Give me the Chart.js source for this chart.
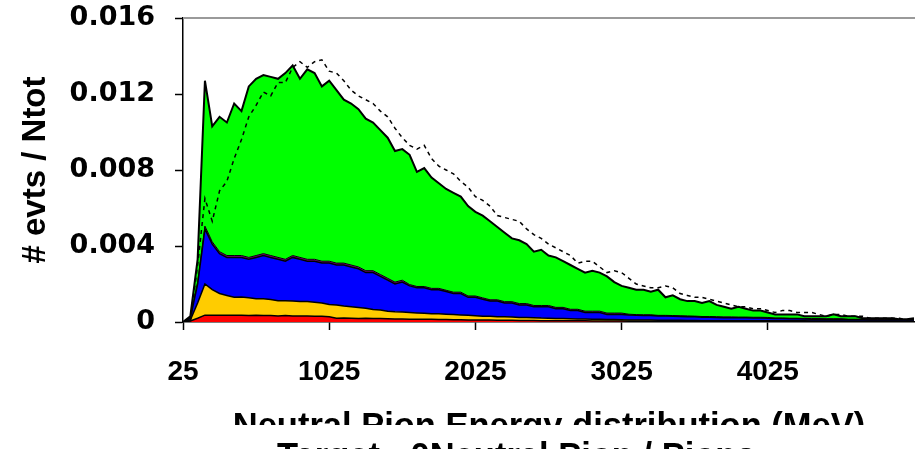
<!DOCTYPE html>
<html>
<head>
  <title>Neutral Pion Energy distribution</title>
  <script src="https://cdn.jsdelivr.net/npm/chart.js"></script>
  <style>
    body {
      margin: 0;
      background: #fff;
    }
    canvas {
      display: block;
    }
  </style>
</head>
<body>
  <canvas id="chart" width="915" height="449"></canvas>

  <script>
    // bin centres (MeV), 50 MeV wide
    var energyMeV = [
      25, 75, 125, 175, 225, 275, 325, 375, 425, 475,
      525, 575, 625, 675, 725, 775, 825, 875, 925, 975,
      1025, 1075, 1125, 1175, 1225, 1275, 1325, 1375, 1425, 1475,
      1525, 1575, 1625, 1675, 1725, 1775, 1825, 1875, 1925, 1975,
      2025, 2075, 2125, 2175, 2225, 2275, 2325, 2375, 2425, 2475,
      2525, 2575, 2625, 2675, 2725, 2775, 2825, 2875, 2925, 2975,
      3025, 3075, 3125, 3175, 3225, 3275, 3325, 3375, 3425, 3475,
      3525, 3575, 3625, 3675, 3725, 3775, 3825, 3875, 3925, 3975,
      4025, 4075, 4125, 4175, 4225, 4275, 4325, 4375, 4425, 4475,
      4525, 4575, 4625, 4675, 4725, 4775, 4825, 4875, 4925, 4975,
      5025
    ];

    // stacked contributions, # evts / Ntot (bottom to top)
    var redPart = [
      0, 0.00005, 0.0002, 0.00036, 0.00036, 0.00036, 0.00036, 0.00036, 0.00036, 0.00034,
      0.00036, 0.00034, 0.00034, 0.00032, 0.00034, 0.00032, 0.00031, 0.00032, 0.0003, 0.0003,
      0.00028, 0.0002, 0.00021, 0.0002, 0.00019, 0.0002, 0.00018, 0.00018, 0.00017, 0.00016,
      0.00016, 0.00015, 0.00015, 0.00014, 0.00014, 0.00013, 0.00013, 0.00012, 0.00012, 0.00011,
      0.00011, 0.0001, 0.0001, 0.00009, 0.00009, 0.00009, 0.00008, 0.00008, 0.00008, 0.00007,
      0.00007, 0.00007, 0.00006, 0.00006, 0.00006, 0.00006, 0.00005, 0.00005, 0.00005, 0.00005,
      0.00005, 0.00004, 0.00004, 0.00004, 0.00004, 0.00004, 0.00004, 0.00004, 0.00004, 0.00004,
      0.00004, 0.00003, 0.00003, 0.00003, 0.00003, 0.00003, 0.00003, 0.00003, 0.00003, 0.00003,
      0.00003, 0.00003, 0.00003, 0.00003, 0.00003, 0.00003, 0.00002, 0.00002, 0.00002, 0.00002,
      0.00002, 0.00002, 0.00002, 0.00002, 0.00002, 0.00002, 0.00002, 0.00002, 0.00002, 0.00002,
      0.00002
    ];
    var yellowPart = [
      0, 0.00005, 0.0008, 0.00164, 0.00134, 0.00114, 0.00104, 0.00094, 0.00096, 0.00094,
      0.00086, 0.00088, 0.00084, 0.0008, 0.00078, 0.00078, 0.00077, 0.00076, 0.00074, 0.0007,
      0.00064, 0.0007, 0.00063, 0.0006, 0.00057, 0.00052, 0.00048, 0.00045, 0.0004, 0.00038,
      0.00036, 0.00035, 0.00033, 0.00032, 0.0003, 0.0003, 0.00028, 0.00027, 0.00025, 0.00024,
      0.00022, 0.0002, 0.0002, 0.00019, 0.00018, 0.00017, 0.00016, 0.00016, 0.00015, 0.00014,
      0.00013, 0.00012, 0.00012, 0.00011, 0.0001, 0.0001, 0.00009, 0.00009, 0.00008, 0.00008,
      0.00007, 0.00007, 0.00006, 0.00006, 0.00006, 0.00005, 0.00005, 0.00005, 0.00005, 0.00004,
      0.00004, 0.00004, 0.00004, 0.00004, 0.00004, 0.00004, 0.00004, 0.00004, 0.00004, 0.00004,
      0.00004, 0.00003, 0.00003, 0.00003, 0.00003, 0.00003, 0.00003, 0.00003, 0.00003, 0.00003,
      0.00003, 0.00002, 0.00002, 0.00002, 0.00002, 0.00002, 0.00002, 0.00002, 0.00002, 0.00002,
      0.00002
    ];
    var bluePart = [
      0, 0.0001, 0.001, 0.0029, 0.0024, 0.0021, 0.002, 0.0021, 0.00208, 0.00202,
      0.00218, 0.00228, 0.00222, 0.00218, 0.00208, 0.0023, 0.00222, 0.00212, 0.00216, 0.0021,
      0.00218, 0.0021, 0.00216, 0.0021, 0.00204, 0.00188, 0.00194, 0.00177, 0.00163, 0.00146,
      0.00158, 0.0014, 0.00132, 0.00134, 0.00126, 0.00127, 0.00119, 0.00111, 0.00113, 0.00095,
      0.00097, 0.0009, 0.0008, 0.00082, 0.00073, 0.00074, 0.00066, 0.00066, 0.00057, 0.00059,
      0.0006, 0.00051, 0.00052, 0.00043, 0.00044, 0.00034, 0.00036, 0.00036, 0.00027, 0.00027,
      0.00028, 0.00026, 0.00025, 0.00024, 0.00024, 0.00022, 0.00022, 0.00021, 0.0002, 0.0002,
      0.00019, 0.00018, 0.00018, 0.00017, 0.00016, 0.00016, 0.00015, 0.00015, 0.00014, 0.00014,
      0.00013, 0.00012, 0.00012, 0.00011, 0.00011, 0.0001, 0.0001, 0.0001, 0.00009, 0.00009,
      0.00009, 0.00008, 0.00008, 0.00008, 0.00007, 0.00007, 0.00007, 0.00006, 0.00006, 0.00006,
      0.00006
    ];
    var purplePart = [
      0, 0, 0.00008, 0.00015, 0.00012, 0.0001, 0.0001, 0.0001, 0.0001, 0.0001,
      0.0001, 0.0001, 0.0001, 0.0001, 0.0001, 0.0001, 0.0001, 0.0001, 0.0001, 0.0001,
      0.0001, 0.0001, 0.0001, 0.0001, 0.0001, 0.0001, 0.0001, 0.0001, 0.0001, 0.0001,
      0.0001, 0.00007, 0.00007, 0.00007, 0.00007, 0.00007, 0.00007, 0.00007, 0.00007, 0.00007,
      0.00007, 0.00007, 0.00007, 0.00007, 0.00007, 0.00007, 0.00007, 0.00007, 0.00007, 0.00007,
      0.00007, 0.00007, 0.00007, 0.00007, 0.00007, 0.00007, 0.00007, 0.00007, 0.00007, 0.00007,
      0.00007, 0.00004, 0.00004, 0.00004, 0.00004, 0.00004, 0.00004, 0.00004, 0.00004, 0.00004,
      0.00004, 0.00004, 0.00004, 0.00004, 0.00004, 0.00004, 0.00004, 0.00004, 0.00004, 0.00004,
      0.00004, 0.00003, 0.00003, 0.00003, 0.00003, 0.00003, 0.00003, 0.00003, 0.00003, 0.00003,
      0.00003, 0.00003, 0.00003, 0.00003, 0.00003, 0.00003, 0.00003, 0.00003, 0.00003, 0.00003,
      0.00003
    ];
    var greenPart = [
      0, 0.0001, 0.00122, 0.00765, 0.00608, 0.0071, 0.007, 0.008, 0.0076, 0.009,
      0.0093, 0.0094, 0.0094, 0.0094, 0.0098, 0.01, 0.0094, 0.01, 0.0098, 0.0092,
      0.0095, 0.0091, 0.0086, 0.0085, 0.0083, 0.008, 0.0078, 0.0076, 0.0074, 0.0069,
      0.0069, 0.00683, 0.00603, 0.00623, 0.00583, 0.00553, 0.00533, 0.00523, 0.00503, 0.00473,
      0.00443, 0.00433, 0.00413, 0.00383, 0.00363, 0.00333, 0.00333, 0.00313, 0.00283, 0.00293,
      0.00263, 0.00263, 0.00243, 0.00233, 0.00213, 0.00203, 0.00213, 0.00203, 0.00193, 0.00163,
      0.00143, 0.00139, 0.00131, 0.00132, 0.00122, 0.00135, 0.00095, 0.00106, 0.00087, 0.00078,
      0.00079, 0.00071, 0.00081, 0.00062, 0.00053, 0.00043, 0.00054, 0.00044, 0.00035, 0.00035,
      0.00026, 0.00019, 0.00019, 0.0002, 0.0002, 0.00011, 0.00012, 0.00012, 0.00013, 0.00023,
      0.00013, 0.00015, 0.00015, 0.00005, 0.00006, 0.00006, 0.00006, 0.00007, 0.00002, 0.00002,
      0.00007
    ];

    // reference distribution, drawn dashed and not stacked
    var dashedRef = [
      0, 0, 0.003, 0.0065, 0.0053, 0.0069, 0.0074, 0.0086, 0.0096, 0.0108,
      0.0114, 0.0121, 0.0119, 0.0126, 0.0126, 0.0134, 0.0137, 0.0134, 0.0137, 0.0138,
      0.0132, 0.0131, 0.0127, 0.0122, 0.0119, 0.0117, 0.0115, 0.0111, 0.0108, 0.0102,
      0.0097, 0.0093, 0.0091, 0.0093, 0.0086, 0.0082, 0.008, 0.0078, 0.0074, 0.0071,
      0.0066, 0.0064, 0.0061, 0.0056, 0.0055, 0.0054, 0.0053, 0.0049, 0.0046, 0.0044,
      0.0041, 0.0039, 0.0037, 0.0035, 0.0031, 0.0032, 0.0032, 0.0029, 0.0026, 0.0027,
      0.0026, 0.0023, 0.002, 0.0019, 0.0018, 0.0018, 0.0019, 0.0018, 0.0015, 0.0014,
      0.0013, 0.0013, 0.0012, 0.0011, 0.001, 0.0009, 0.0008, 0.0008, 0.0007, 0.0007,
      0.0006, 0.0005, 0.0006, 0.0006, 0.0005, 0.0005, 0.0005, 0.0004, 0.0003, 0.0004,
      0.0004, 0.0003, 0.0003, 0.0003, 0.0002, 0.0002, 0.0002, 0.0002, 0.0002, 0.0001,
      0.0002
    ];

    var xTicks = [25, 1025, 2025, 3025, 4025];
    var yTicks = ['0', '0.004', '0.008', '0.012', '0.016'];

    var yTitle = '# evts / Ntot';
    var xTitle = 'Neutral Pion Energy distribution (MeV)';
    var captionLine = 'Target : 0Neutral Pion / Pions';

    function area(data, color, fill, width) {
      return {
        data: data,
        stack: 'parts',
        backgroundColor: color,
        borderColor: '#000',
        borderWidth: width,
        fill: fill,
        pointRadius: 0,
        tension: 0
      };
    }

    // top frame line and the two caption lines under the axis
    var frameAndCaptions = {
      id: 'frameAndCaptions',
      afterDraw: function (chart) {
        var ctx = chart.ctx;
        var a = chart.chartArea;
        ctx.save();
        ctx.strokeStyle = '#9a9a9a';
        ctx.lineWidth = 2;
        ctx.beginPath();
        ctx.moveTo(a.left, a.top);
        ctx.lineTo(chart.width, a.top);
        ctx.stroke();
        ctx.restore();

        ctx.save();
        ctx.fillStyle = '#000';
        ctx.font = 'bold 34.5px "Liberation Sans", Arial, sans-serif';
        ctx.textBaseline = 'alphabetic';
        ctx.beginPath();
        ctx.rect(0, 0, chart.width, 425);
        ctx.clip();
        ctx.textAlign = 'center';
        ctx.fillText(xTitle, 549, 437);
        ctx.restore();

        ctx.save();
        ctx.fillStyle = '#000';
        ctx.font = 'bold 34.5px "Liberation Sans", Arial, sans-serif';
        ctx.beginPath();
        ctx.rect(0, 437, chart.width, chart.height - 437);
        ctx.clip();
        ctx.textAlign = 'left';
        ctx.fillText(captionLine, 277, 467);
        ctx.restore();
      }
    };

    var ctx = document.getElementById('chart').getContext('2d');
    var chart = new Chart(ctx, {
      type: 'line',
      data: {
        labels: energyMeV,
        datasets: [
          {
            data: dashedRef,
            stack: 'ref',
            borderColor: '#000',
            borderWidth: 1.5,
            borderDash: [4, 4],
            fill: false,
            pointRadius: 0,
            tension: 0
          },
          area(redPart, '#ff0000', 'origin', 1.5),
          area(yellowPart, '#ffcc00', '-1', 1.5),
          area(bluePart, '#0000ff', '-1', 1.5),
          area(purplePart, '#800080', '-1', 1),
          area(greenPart, '#00ff00', '-1', 2)
        ]
      },
      options: {
        responsive: false,
        devicePixelRatio: 1,
        animation: false,
        layout: {
          padding: { top: 18, right: 1, bottom: 0, left: 0 }
        },
        plugins: {
          legend: { display: false },
          tooltip: { enabled: false }
        },
        scales: {
          x: {
            type: 'linear',
            min: 25,
            max: 5025,
            afterBuildTicks: function (scale) {
              scale.ticks = xTicks.map(function (v) { return { value: v }; });
            },
            afterFit: function (scale) {
              scale.height = 127;
              scale.paddingLeft = 0;
              scale.paddingRight = 0;
            },
            grid: {
              drawOnChartArea: false,
              drawTicks: true,
              tickLength: 8,
              tickWidth: 1.5,
              tickColor: '#000'
            },
            border: { display: true, color: '#000', width: 1.5 },
            ticks: {
              color: '#000',
              padding: 25,
              maxRotation: 0,
              font: { family: '"Liberation Sans", Arial, sans-serif', weight: 'bold', size: 28 },
              callback: function (v) { return String(v); }
            }
          },
          y: {
            stacked: true,
            min: 0,
            max: 0.016,
            afterBuildTicks: function (scale) {
              scale.ticks = yTicks.map(function (t) { return { value: parseFloat(t) }; });
            },
            afterFit: function (scale) {
              scale.width = 183;
              scale.paddingTop = 0;
              scale.paddingBottom = 0;
            },
            grid: {
              drawOnChartArea: false,
              drawTicks: true,
              tickLength: 8,
              tickWidth: 1.5,
              tickColor: '#000'
            },
            border: { display: true, color: '#000', width: 1.5 },
            ticks: {
              color: '#000',
              padding: 20,
              font: { family: '"DejaVu Sans", sans-serif', weight: 'bold', size: 27 },
              callback: function (v, i) { return yTicks[i]; }
            },
            title: {
              display: true,
              text: yTitle,
              color: '#000',
              padding: { top: 16, bottom: 0 },
              font: { family: '"Liberation Sans", Arial, sans-serif', weight: 'bold', size: 33 }
            }
          }
        }
      },
      plugins: [frameAndCaptions]
    });
  </script>
</body>
</html>
